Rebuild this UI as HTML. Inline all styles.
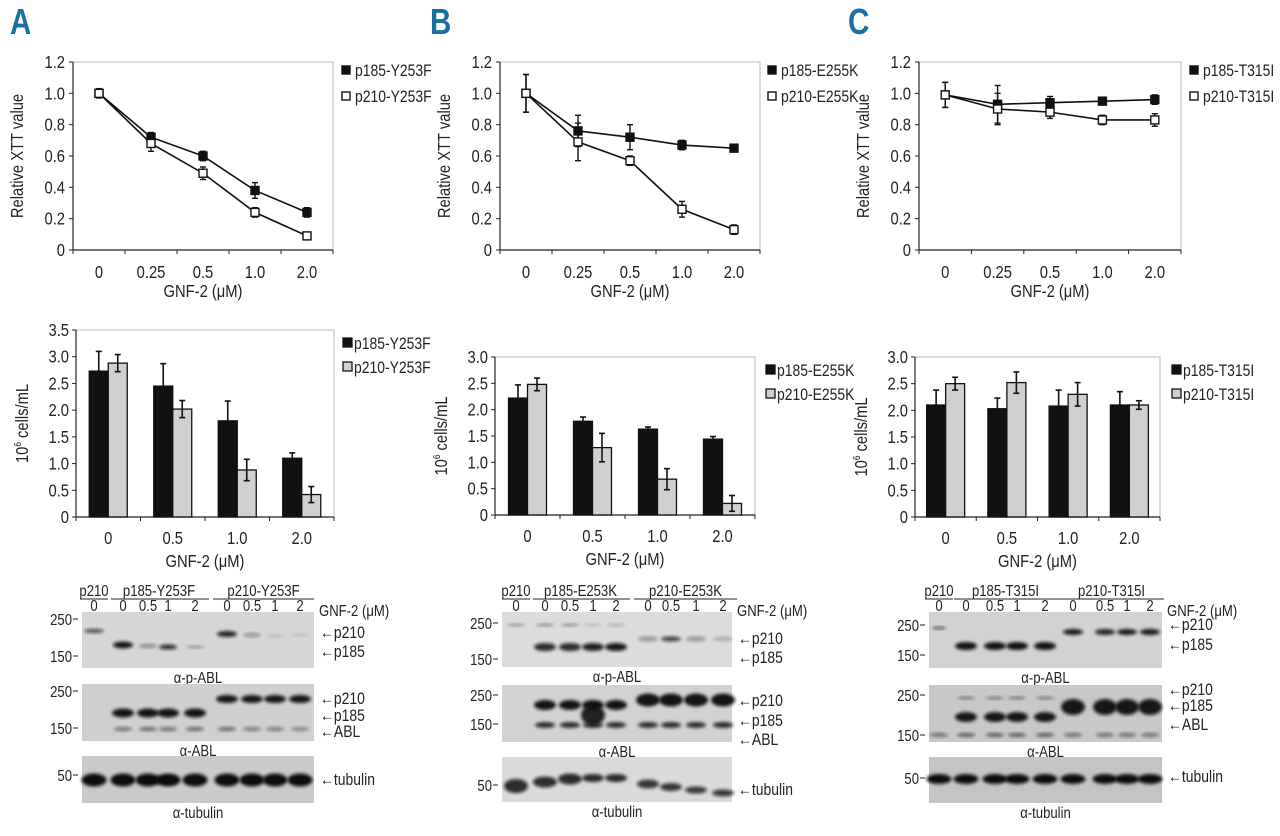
<!DOCTYPE html>
<html><head><meta charset="utf-8"><style>
body{margin:0;background:#fff;width:1280px;height:836px;overflow:hidden}
svg{display:block;font-family:"Liberation Sans",sans-serif}
</style></head><body>
<svg id="fig" width="1280" height="836" viewBox="0 0 1280 836" xmlns="http://www.w3.org/2000/svg">
<defs><filter id="blur" x="-20%" y="-50%" width="140%" height="200%"><feGaussianBlur stdDeviation="1.6"/></filter></defs>
</svg>
<script>
// ---------- data ----------
const lineCats = ["0","0.25","0.5","1.0","2.0"];
const barCats = ["0","0.5","1.0","2.0"];
const lineTicks = [0,0.2,0.4,0.6,0.8,1.0,1.2];
const lineTickLabels = ["0","0.2","0.4","0.6","0.8","1.0","1.2"];
const barTicksA = [0,0.5,1,1.5,2,2.5,3,3.5];
const barTickLabelsA = ["0","0.5","1.0","1.5","2.0","2.5","3.0","3.5"];
const barTicksBC = [0,0.5,1,1.5,2,2.5,3];
const barTickLabelsBC = ["0","0.5","1.0","1.5","2.0","2.5","3.0"];

const lineA185 = [1.0,0.72,0.60,0.38,0.24];
const lineA185Err = [0.02,0.03,0.03,0.05,0.03];
const lineA210 = [1.0,0.68,0.49,0.24,0.09];
const lineA210Err = [0.03,0.05,0.04,0.03,0.01];
const lineB185 = [1.0,0.76,0.72,0.67,0.65];
const lineB185Err = [0.12,0.10,0.08,0.03,0.01];
const lineB210 = [1.0,0.69,0.57,0.26,0.13];
const lineB210Err = [0.12,0.12,0.03,0.05,0.03];
const lineC185 = [0.99,0.93,0.94,0.95,0.96];
const lineC185Err = [0.08,0.12,0.04,0.02,0.03];
const lineC210 = [0.99,0.90,0.88,0.83,0.83];
const lineC210Err = [0.08,0.10,0.04,0.03,0.04];

const barA185 = [2.73,2.45,1.80,1.10];
const barA185Err = [0.37,0.42,0.37,0.10];
const barA210 = [2.88,2.02,0.88,0.42];
const barA210Err = [0.16,0.16,0.20,0.15];
const barB185 = [2.22,1.78,1.63,1.44];
const barB185Err = [0.25,0.08,0.04,0.05];
const barB210 = [2.48,1.28,0.68,0.22];
const barB210Err = [0.12,0.27,0.20,0.15];
const barC185 = [2.10,2.03,2.08,2.10];
const barC185Err = [0.28,0.20,0.30,0.25];
const barC210 = [2.50,2.52,2.30,2.10];
const barC210Err = [0.12,0.20,0.22,0.08];

const svg = document.getElementById('fig');
const NS = 'http://www.w3.org/2000/svg';
const SX = 0.82;
function mk(tag, attrs, parent, text){
  const e = document.createElementNS(NS, tag);
  for (const k in attrs) e.setAttribute(k, attrs[k]);
  if (text !== undefined) e.textContent = text;
  (parent || svg).appendChild(e);
  return e;
}
function txt(x,y,s,size,anchor,parent,extra){
  const t = mk('text', Object.assign({x:0,y:0,transform:`translate(${x},${y}) scale(${SX},1)`,'font-size':size,'text-anchor':anchor||'middle',fill:'#222'}, extra||{}), parent, s);
  return t;
}

// ---------- panel letters ----------
[['A',10],['B',430],['C',848]].forEach(([l,x])=>{
  const t = txt(x,34,l,36,'start',svg,{'font-weight':'bold',fill:'#1b6fa3'});
  
  
});

// ---------- line charts ----------
function lineChart(name, x0, x1, yTop, yBot, s185, e185, s210, e210, leg185, leg210, legX){
  const g = mk('g', {});
  
  
  const ymax = 1.2;
  const Y = v => yBot - (v/ymax)*(yBot-yTop);
  const band = (x1-x0)/lineCats.length;
  const X = i => x0 + band*(i+0.5);
  mk('rect',{x:x0,y:yTop,width:x1-x0,height:yBot-yTop,fill:'none',stroke:'#bbb','stroke-width':1},g);
  mk('line',{x1:x0,y1:yTop,x2:x0,y2:yBot,stroke:'#222','stroke-width':1.2},g);
  mk('line',{x1:x0,y1:yBot,x2:x1,y2:yBot,stroke:'#222','stroke-width':1.2},g);
  lineTicks.forEach((v,i)=>{
    mk('line',{x1:x0-4,y1:Y(v),x2:x0,y2:Y(v),stroke:'#222'},g);
    const t = txt(x0-8,Y(v)+6,lineTickLabels[i],18,'end',g);
    
    
  });
  for(let i=0;i<=lineCats.length;i++) mk('line',{x1:x0+band*i,y1:yBot,x2:x0+band*i,y2:yBot+4,stroke:'#222'},g);
  lineCats.forEach((c,i)=>{
    const t = txt(X(i),yBot+28,c,18,'middle',g);
    
    
  });
  const xt = txt((x0+x1)/2, yBot+47, 'GNF-2 (\u03bcM)', 18, 'middle', g);
  
  
  const yt = mk('text',{x:0,y:0,'font-size':18,'text-anchor':'middle',fill:'#222',transform:`translate(${x0-50},${(yTop+yBot)/2}) rotate(-90) scale(${SX},1)`},g,'Relative XTT value');
  
  
  [[s185,e185,'#111','p185'],[s210,e210,'#fff','p210']].forEach(([s,e,fill,nm])=>{
    const pl = mk('polyline',{points:s.map((v,i)=>X(i)+','+Y(v)).join(' '),fill:'none',stroke:'#111','stroke-width':1.6},g);
    
    
    s.forEach((v,i)=>{
      mk('line',{x1:X(i),y1:Y(v+e[i]),x2:X(i),y2:Y(v-e[i]),stroke:'#111','stroke-width':1.4},g);
      mk('line',{x1:X(i)-3,y1:Y(v+e[i]),x2:X(i)+3,y2:Y(v+e[i]),stroke:'#111','stroke-width':1.4},g);
      mk('line',{x1:X(i)-3,y1:Y(v-e[i]),x2:X(i)+3,y2:Y(v-e[i]),stroke:'#111','stroke-width':1.4},g);
      const p = mk('rect',{x:X(i)-4,y:Y(v)-4,width:8,height:8,fill:fill,stroke:'#111','stroke-width':1.4},g);
      
      
    });
  });
  [[leg185,'#111',yTop+8],[leg210,'#fff',yTop+34]].forEach(([lab,fill,y])=>{
    const le = mk('g',{},g);
    
    
    mk('rect',{x:legX,y:y-4,width:8,height:8,fill:fill,stroke:'#111','stroke-width':1.4},le);
    txt(legX+13,y+6,lab,17,'start',le);
  });
}
lineChart('line-chart-a',73,333,62,250,lineA185,lineA185Err,lineA210,lineA210Err,'p185-Y253F','p210-Y253F',342);
lineChart('line-chart-b',500,760,62,250,lineB185,lineB185Err,lineB210,lineB210Err,'p185-E255K','p210-E255K',768);
lineChart('line-chart-c',919,1181,62,250,lineC185,lineC185Err,lineC210,lineC210Err,'p185-T315I','p210-T315I',1190);

// ---------- bar charts ----------
function barChart(name, x0, x1, yTop, yBot, ymax, ticks, tickLabels, s185, e185, s210, e210, leg185, leg210, legX){
  const g = mk('g', {});
  
  
  const Y = v => yBot - (v/ymax)*(yBot-yTop);
  const band = (x1-x0)/barCats.length;
  const X = i => x0 + band*(i+0.5);
  const bw = 19;
  mk('rect',{x:x0,y:yTop,width:x1-x0,height:yBot-yTop,fill:'none',stroke:'#bbb','stroke-width':1},g);
  mk('line',{x1:x0,y1:yTop,x2:x0,y2:yBot,stroke:'#222','stroke-width':1.2},g);
  mk('line',{x1:x0,y1:yBot,x2:x1,y2:yBot,stroke:'#222','stroke-width':1.2},g);
  ticks.forEach((v,i)=>{
    mk('line',{x1:x0-4,y1:Y(v),x2:x0,y2:Y(v),stroke:'#222'},g);
    const t = txt(x0-7,Y(v)+6,tickLabels[i],18,'end',g);
    
    
  });
  for(let i=0;i<=barCats.length;i++) mk('line',{x1:x0+band*i,y1:yBot,x2:x0+band*i,y2:yBot+4,stroke:'#222'},g);
  barCats.forEach((c,i)=>{
    const t = txt(X(i),yBot+27,c,18,'middle',g);
    
    
  });
  const xt = txt((x0+x1)/2, yBot+50, 'GNF-2 (\u03bcM)', 18, 'middle', g);
  
  
  const yt = mk('text',{x:0,y:0,'font-size':18,'text-anchor':'middle',fill:'#222',transform:`translate(${x0-48},${(yTop+yBot)/2}) rotate(-90) scale(${SX},1)`},g);
  yt.innerHTML = '10<tspan font-size="10" dy="-7">6</tspan><tspan dy="7"> cells/mL</tspan>';
  
  
  [[s185,e185,'#111',-bw,'p185'],[s210,e210,'#d0d0d0',0,'p210']].forEach(([s,e,fill,off,nm])=>{
    s.forEach((v,i)=>{
      const cx = X(i)+off;
      const b = mk('rect',{x:cx,y:Y(v),width:bw,height:yBot-Y(v),fill:fill,stroke:'#111','stroke-width':1.3},g);
      
      
      const mx = cx+bw/2;
      mk('line',{x1:mx,y1:Y(v+e[i]),x2:mx,y2:Y(v-e[i]),stroke:'#111','stroke-width':1.6},g);
      mk('line',{x1:mx-3,y1:Y(v+e[i]),x2:mx+3,y2:Y(v+e[i]),stroke:'#111','stroke-width':1.6},g);
      mk('line',{x1:mx-3,y1:Y(v-e[i]),x2:mx+3,y2:Y(v-e[i]),stroke:'#111','stroke-width':1.6},g);
    });
  });
  [[leg185,'#111',yTop+13],[leg210,'#d0d0d0',yTop+37]].forEach(([lab,fill,y])=>{
    const le = mk('g',{},g);
    
    
    mk('rect',{x:legX,y:y-5,width:9,height:9,fill:fill,stroke:'#111','stroke-width':1.3},le);
    txt(legX+11,y+6,lab,17,'start',le);
  });
}
barChart('bar-chart-a',76,334,330,517,3.5,barTicksA,barTickLabelsA,barA185,barA185Err,barA210,barA210Err,'p185-Y253F','p210-Y253F',343);
barChart('bar-chart-b',495,755,357,515,3.0,barTicksBC,barTickLabelsBC,barB185,barB185Err,barB210,barB210Err,'p185-E255K','p210-E255K',766);
barChart('bar-chart-c',915,1160,357,517,3.0,barTicksBC,barTickLabelsBC,barC185,barC185Err,barC210,barC210Err,'p185-T315I','p210-T315I',1172);

// ---------- western blots ----------
function blot(name, x0, x1, lanes, mut, blots){
  const g = mk('g',{});
  
  
  txt(lanes[0],596,'p210',16,'middle',g);
  mk('line',{x1:lanes[0]-14,y1:599,x2:lanes[0]+14,y2:599,stroke:'#222'},g);
  txt((lanes[1]+lanes[4])/2,596,'p185-'+mut,16,'middle',g);
  mk('line',{x1:lanes[1]-12,y1:599,x2:lanes[4]+14,y2:599,stroke:'#222'},g);
  txt((lanes[5]+lanes[8])/2,596,'p210-'+mut,16,'middle',g);
  mk('line',{x1:lanes[5]-14,y1:599,x2:lanes[8]+14,y2:599,stroke:'#222'},g);
  ['0','0','0.5','1','2','0','0.5','1','2'].forEach((l,i)=>txt(lanes[i],611,l,16,'middle',g));
  txt(x1+5,616,'GNF-2 (\u03bcM)',16,'start',g);
  blots.forEach(b=>{
    const bg = mk('g',{},g);
    
    
    mk('rect',{x:x0,y:b.y0,width:x1-x0,height:b.y1-b.y0,fill:b.bg},bg);
    b.bands.forEach(([li,yo,w,h,op])=>{
      mk('ellipse',{cx:lanes[li],cy:b.y0+yo,rx:w/2,ry:h/2,fill:'#111','fill-opacity':op,filter:'url(#blur)'},bg);
    });
    b.markers.forEach(([lab,yo])=>{
      txt(x0-10,b.y0+yo+5,lab,16,'end',bg);
      mk('line',{x1:x0-9,y1:b.y0+yo-1,x2:x0-4,y2:b.y0+yo-1,stroke:'#222'},bg);
    });
    b.arrows.forEach(([lab,yo])=>txt(x1+6,b.y0+yo+5,'\u2190'+lab,17,'start',bg));
    txt((x0+x1)/2,b.y1+15,b.title,16,'middle',bg);
  });
}
function rowBands(idx, yo, w, h, ops){ return idx.map((li,k)=>[li,yo,w,h,ops[k]]); }

blot('western-blot-a',82,314,[94,123,148,168,195,227,252,275,300],'Y253F',[
  {name:'blot-p-abl',y0:612,y1:668,bg:'#d6d6d6',title:'\u03b1-p-ABL',markers:[['250',8],['150',45]],arrows:[['p210',21],['p185',40]],
   bands:[[0,19,20,4,0.7],[1,33,20,7,0.95],[2,34,18,4,0.4],[3,35,18,5,0.85],[4,35,18,3,0.3],[5,22,20,6,0.9],[6,23,18,4,0.35],[7,24,16,3,0.15],[8,23,16,3,0.12]]},
  {name:'blot-abl',y0:684,y1:741,bg:'#cfcfcf',title:'\u03b1-ABL',markers:[['250',8],['150',45]],arrows:[['p210',15],['p185',32],['ABL',48]],
   bands:[].concat(rowBands([1,2,3,4],29,22,9,[0.97,0.97,0.97,0.97]),rowBands([5,6,7,8],15,22,8,[0.95,0.95,0.95,0.95]),rowBands([1,2,3,4,5,6,7,8],45,18,4,[0.5,0.55,0.5,0.55,0.55,0.45,0.45,0.4]))},
  {name:'blot-tubulin',y0:756,y1:803,bg:'#cacaca',title:'\u03b1-tubulin',markers:[['50',20]],arrows:[['tubulin',24]],
   bands:rowBands([0,1,2,3,4,5,6,7,8],24,25,13,[1,1,1,1,1,1,1,1,1])}
]);
blot('western-blot-b',502,732,[516,545,570,593,616,648,671,696,723],'E253K',[
  {name:'blot-p-abl',y0:612,y1:667,bg:'#dcdcdc',title:'\u03b1-p-ABL',markers:[['250',12],['150',48]],arrows:[['p210',27],['p185',46]],
   bands:[].concat(rowBands([0,1,2,3,4],13,18,3,[0.3,0.35,0.35,0.15,0.2]),rowBands([1,2,3,4],35,22,8,[0.85,0.85,0.9,0.95]),rowBands([5,6,7,8],27,20,5,[0.35,0.75,0.35,0.2]))},
  {name:'blot-abl',y0:685,y1:742,bg:'#d2d2d2',title:'\u03b1-ABL',markers:[['250',11],['150',40]],arrows:[['p210',16],['p185',36],['ABL',55]],
   bands:[].concat(rowBands([1,2,3,4],20,22,10,[0.97,0.97,0.97,0.97]),[[3,30,24,20,0.9]],rowBands([5,6,7,8],15,24,13,[0.97,0.97,0.97,0.97]),rowBands([1,2,3,4,5,6,7,8],40,20,6,[0.85,0.85,0.85,0.85,0.85,0.85,0.85,0.85]))},
  {name:'blot-tubulin',y0:757,y1:802,bg:'#dadada',title:'\u03b1-tubulin',markers:[['50',29]],arrows:[['tubulin',33]],
   bands:[[0,29,24,14,0.85],[1,25,24,11,0.85],[2,22,24,11,0.85],[3,21,22,8,0.85],[4,21,22,8,0.85],[5,27,22,9,0.8],[6,30,22,8,0.8],[7,33,22,7,0.8],[8,36,22,7,0.8]]}
]);
blot('western-blot-c',929,1162,[939,966,995,1017,1045,1073,1105,1127,1150],'T315I',[
  {name:'blot-p-abl',y0:612,y1:668,bg:'#d2d2d2',title:'\u03b1-p-ABL',markers:[['250',14],['150',44]],arrows:[['p210',13],['p185',33]],
   bands:[].concat([[0,16,14,3,0.6]],rowBands([1,2,3,4],34,22,8,[0.97,0.97,0.97,0.97]),rowBands([5,6,7,8],20,20,6,[0.95,0.9,0.95,0.95]))},
  {name:'blot-abl',y0:685,y1:742,bg:'#c8c8c8',title:'\u03b1-ABL',markers:[['250',11],['150',51]],arrows:[['p210',5],['p185',21],['ABL',40]],
   bands:[].concat(rowBands([1,2,3,4],32,22,10,[0.95,0.95,0.95,0.95]),rowBands([5,6,7,8],22,24,16,[0.95,0.95,0.95,0.95]),rowBands([0,1,2,3,4,5,6,7,8],50,18,4,[0.5,0.6,0.6,0.6,0.6,0.5,0.5,0.5,0.5]),rowBands([1,2,3,4],13,18,3,[0.4,0.4,0.4,0.4]))},
  {name:'blot-tubulin',y0:757,y1:803,bg:'#c4c4c4',title:'\u03b1-tubulin',markers:[['50',22]],arrows:[['tubulin',20]],
   bands:rowBands([0,1,2,3,4,5,6,7,8],22,25,10,[1,1,1,1,1,1,1,1,1])}
]);
</script>
</body></html>
